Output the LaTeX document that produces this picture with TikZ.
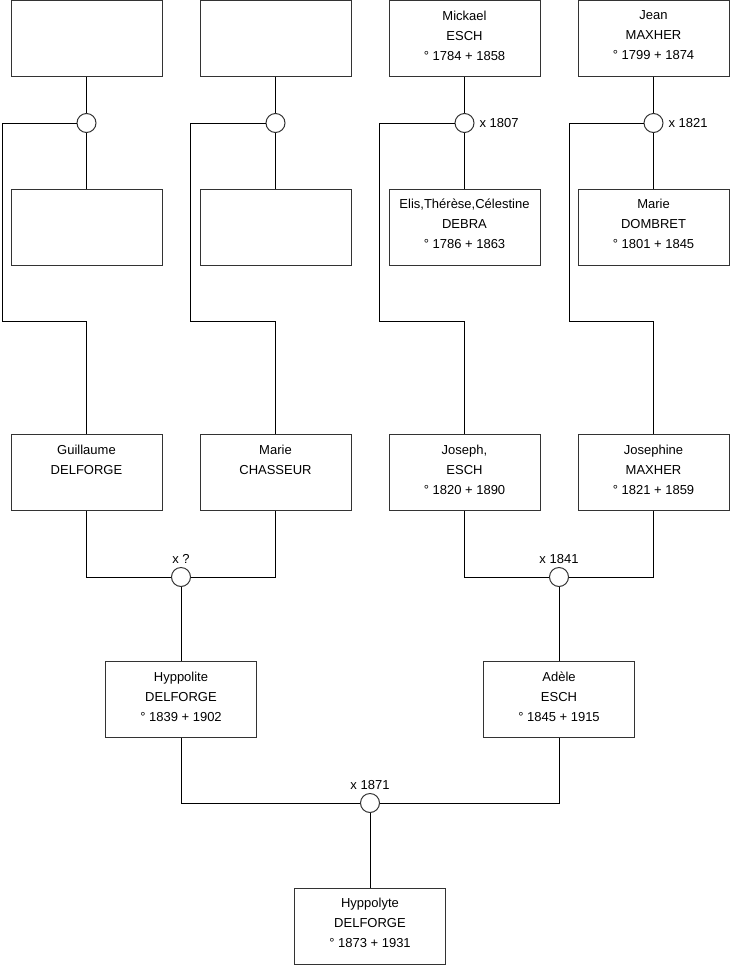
\documentclass[tikz,border=0pt]{standalone}
\usepackage{fontspec}
\setmainfont{Liberation Sans}
\usetikzlibrary{positioning}

\begin{document}
\begin{tikzpicture}[x=1pt, y=-1pt,
    personne/.style={draw=black!80, line width=1pt, minimum width=151pt, minimum height=76pt,
        align=center, font=\fontsize{13}{20}\selectfont,
        execute at end node={\rule[-6pt]{0pt}{6pt}}},
    union/.style={draw=black!80, line width=1pt, circle, fill=white, minimum size=19pt, inner sep=0pt},
    date/.style={font=\fontsize{13}{16}\selectfont},
    lien/.style={line width=1pt}]
    \useasboundingbox (0,0) rectangle (740,975);
    % arriere-grands-parents
    \node[personne] (inconnu1) at (86.5,38.5) {};
    \node[personne] (inconnu2) at (275.5,38.5) {};
    \node[personne] (mickael) at (464.5,38.5) {Mickael\\ESCH\\° 1784 + 1858};
    \node[personne] (jean) at (653.5,38.5) {Jean\\MAXHER\\° 1799 + 1874};
    \node[union] (u1) at (86.5,123) {};
    \node[union] (u2) at (275.5,123) {};
    \node[union] (u3) at (464.5,123) {};
    \node[union] (u4) at (653.5,123) {};
    \node[date, right=1.5pt of u3] (d3) {x 1807};
    \node[date, right=1.5pt of u4] (d4) {x 1821};
    \node[personne] (inconnu3) at (86.5,227) {};
    \node[personne] (inconnu4) at (275.5,227) {};
    \node[personne] (elis) at (464.5,227) {Elis,Thérèse,Célestine\\DEBRA\\° 1786 + 1863};
    \node[personne] (marieD) at (653.5,227) {Marie\\DOMBRET\\° 1801 + 1845};
    \coordinate (c1) at (2,321);
    \coordinate (c2) at (190,321);
    \coordinate (c3) at (379,321);
    \coordinate (c4) at (569,321);
    % grands-parents
    \node[personne] (guillaume) at (86.5,472.5) {Guillaume\\DELFORGE\\\mbox{}};
    \node[personne] (marieC) at (275.5,472.5) {Marie\\CHASSEUR\\\mbox{}};
    \node[personne] (joseph) at (464.5,472.5) {Joseph,\\ESCH\\° 1820 + 1890};
    \node[personne] (josephine) at (653.5,472.5) {Josephine\\MAXHER\\° 1821 + 1859};
    \node[union] (u5) at (181,577) {};
    \node[union] (u6) at (559,577) {};
    \node[date, above=0pt of u5] (d5) {x ?};
    \node[date, above=0pt of u6] (d6) {x 1841};
    % parents
    \node[personne] (hyppolite) at (181,699.5) {Hyppolite\\DELFORGE\\° 1839 + 1902};
    \node[personne] (adele) at (559,699.5) {Adèle\\ESCH\\° 1845 + 1915};
    \node[union] (u7) at (370,803) {};
    \node[date, above=0pt of u7] (d7) {x 1871};
    \node[personne] (hyppolyte) at (370,926) {Hyppolyte\\DELFORGE\\° 1873 + 1931};

    \draw[lien] (inconnu1.south) -- (u1.north);
    \draw[lien] (u1.south) -- (inconnu3.north);
    \draw[lien] (u1.west) -| (c1) -| (guillaume.north);
    \draw[lien] (inconnu2.south) -- (u2.north);
    \draw[lien] (u2.south) -- (inconnu4.north);
    \draw[lien] (u2.west) -| (c2) -| (marieC.north);
    \draw[lien] (mickael.south) -- (u3.north);
    \draw[lien] (u3.south) -- (elis.north);
    \draw[lien] (u3.west) -| (c3) -| (joseph.north);
    \draw[lien] (jean.south) -- (u4.north);
    \draw[lien] (u4.south) -- (marieD.north);
    \draw[lien] (u4.west) -| (c4) -| (josephine.north);
    \draw[lien] (guillaume.south) |- (u5.west);
    \draw[lien] (marieC.south) |- (u5.east);
    \draw[lien] (u5.south) -- (hyppolite.north);
    \draw[lien] (joseph.south) |- (u6.west);
    \draw[lien] (josephine.south) |- (u6.east);
    \draw[lien] (u6.south) -- (adele.north);
    \draw[lien] (hyppolite.south) |- (u7.west);
    \draw[lien] (adele.south) |- (u7.east);
    \draw[lien] (u7.south) -- (hyppolyte.north);
\end{tikzpicture}
\end{document}
